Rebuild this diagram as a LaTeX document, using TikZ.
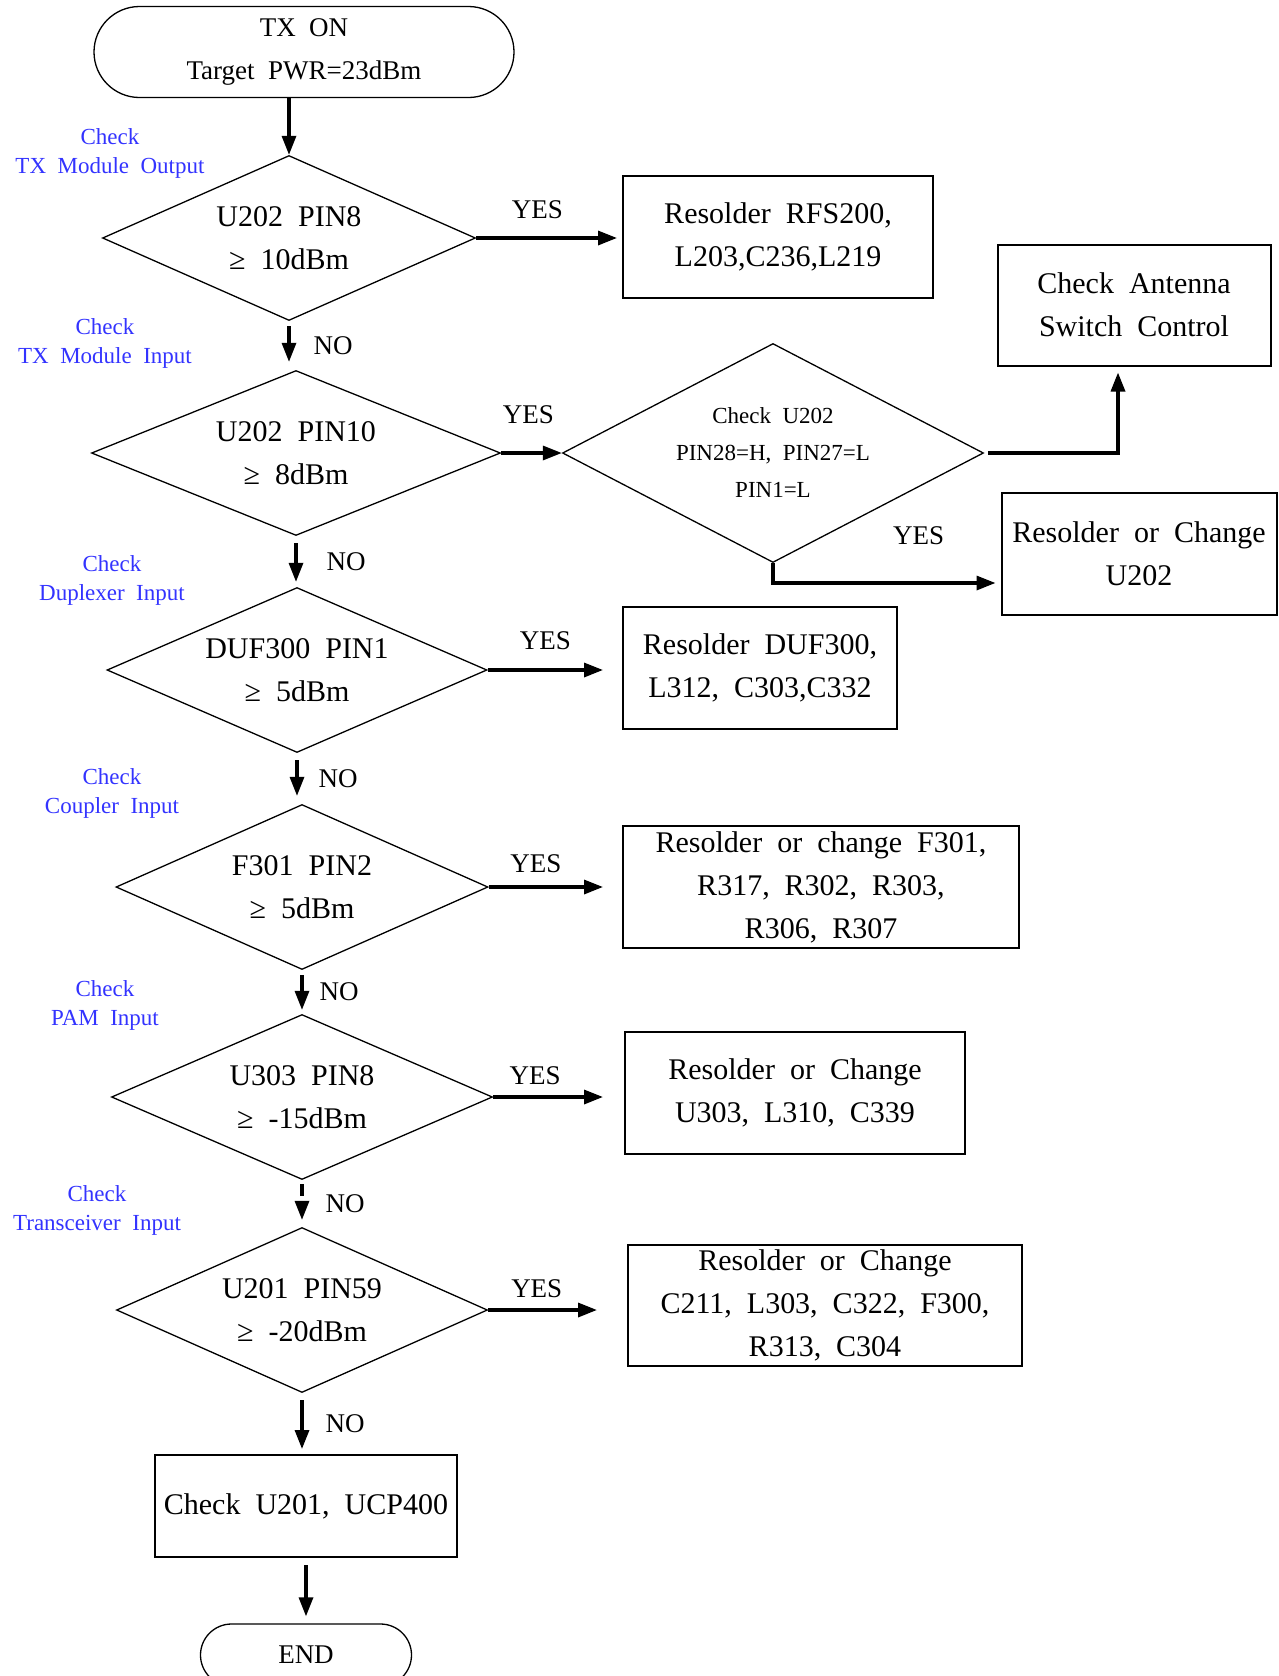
\documentclass[tikz,border=0pt]{standalone}
\usepackage{fontspec}
\setmainfont{Liberation Serif}[WordSpace={2,0,0}]
\usepackage{tikz}
\usetikzlibrary{positioning, shapes, arrows.meta, calc}
\definecolor{ChkBlue}{RGB}{51,51,255}

\begin{document}
\begin{tikzpicture}[
  x=1pt, y=-1pt,
  decision/.style={diamond, draw, line width=1.3pt, inner sep=0pt, shape aspect=2.2, minimum height=165pt, font=\fontsize{30}{43}\selectfont, align=center},
  fixbox/.style={rectangle, draw, line width=2pt, inner sep=0pt, minimum height=122pt, font=\fontsize{30}{43}\selectfont, align=center},
  terminal/.style={rounded rectangle, draw, line width=1.3pt, inner sep=0pt, font=\fontsize{27}{43}\selectfont, align=center},
  arrow/.style={-{Triangle[length=19pt, width=14pt]}, line width=3.3pt},
  yn/.style={font=\fontsize{27}{30}\selectfont, inner sep=0pt},
  chk/.style={font=\fontsize{23}{29}\selectfont, ChkBlue, align=center, inner sep=0pt}
]
\useasboundingbox (0,0) rectangle (1278,1676);

% Start
\node[terminal, minimum width=420pt, minimum height=91pt] (start) at (304,52) {TX ON\\Target PWR=23dBm};

% Decisions (main column)
\node[decision, minimum width=373pt] (u202p8) at (289,238) {U202 PIN8\\≥ 10dBm};
\node[decision, minimum width=409pt] (u202p10) at (296,453) {U202 PIN10\\≥ 8dBm};
\node[decision, minimum width=380pt] (duf300) at (297,670) {DUF300 PIN1\\≥ 5dBm};
\node[decision, minimum width=372pt] (f301) at (302,887) {F301 PIN2\\≥ 5dBm};
\node[decision, minimum width=381pt] (u303) at (302,1097) {U303 PIN8\\≥ -15dBm};
\node[decision, minimum width=371pt] (u201) at (302,1310) {U201 PIN59\\≥ -20dBm};
\node[decision, minimum width=421pt, minimum height=219pt, shape aspect=1.9, font=\fontsize{23}{37}\selectfont] (ctrl) at (773,453) {Check U202\\PIN28=H, PIN27=L\\PIN1=L};

% Repair boxes
\node[fixbox, minimum width=310pt] (rfs200) at (778,237) {Resolder RFS200,\\L203,C236,L219};
\node[fixbox, minimum width=273pt, minimum height=121pt] (antsw) at (1134,305) {Check Antenna\\Switch Control};
\node[fixbox, minimum width=275pt] (chgu202) at (1139,554) {Resolder or Change\\U202};
\node[fixbox, minimum width=274pt] (rsduf) at (760,668) {Resolder DUF300,\\L312, C303,C332};
\node[fixbox, minimum width=396pt] (rsf301) at (821,887) {Resolder or change F301,\\R317, R302, R303,\\R306, R307};
\node[fixbox, minimum width=340pt] (chgu303) at (795,1093) {Resolder or Change\\U303, L310, C339};
\node[fixbox, minimum width=394pt, minimum height=121pt] (chgc211) at (825,1305) {Resolder or Change\\C211, L303, C322, F300,\\R313, C304};
\node[fixbox, minimum width=302pt, minimum height=102pt] (chkucp) at (306,1506) {Check U201, UCP400};

% End
\node[terminal, minimum width=211pt, minimum height=62pt] (finish) at (306,1655) {END};

% Check points
\node[chk] (chk1) at (110,153) {Check\\TX Module Output};
\node[chk] (chk2) at (105,343) {Check\\TX Module Input};
\node[chk] (chk3) at (112,580) {Check\\Duplexer Input};
\node[chk] (chk4) at (112,793) {Check\\Coupler Input};
\node[chk] (chk5) at (105,1005) {Check\\PAM Input};
\node[chk] (chk6) at (97,1210) {Check\\Transceiver Input};

% Arrows down (NO)
\draw[arrow] (start.south -| u202p8.north) -- (u202p8.north);
\draw[arrow, shorten <=5pt, shorten >=8pt] (u202p8.south) -- node[yn, right=23pt] {NO} (u202p8.south |- u202p10.north);
\draw[arrow, shorten <=7pt, shorten >=5pt] (u202p10.south) -- node[yn, right=29pt] {NO} (u202p10.south |- duf300.north);
\draw[arrow, shorten <=7pt, shorten >=8pt] (duf300.south) -- node[yn, right=20pt] {NO} (duf300.south |- f301.north);
\draw[arrow, shorten <=5pt, shorten >=4pt] (f301.south) -- node[yn, right=16pt] {NO} (f301.south |- u303.north);
\draw[arrow, dash pattern=on 12pt off 9pt, shorten <=4pt, shorten >=7pt] (u303.south) -- node[yn, right=22pt] {NO} (u303.south |- u201.north);
\draw[arrow, shorten <=7pt, shorten >=5pt] (u201.south) -- node[yn, right=22pt] {NO} (u201.south |- chkucp.north);
\draw[arrow, shorten <=7pt, shorten >=7pt] (chkucp.south) -- (chkucp.south |- finish.north);

% Arrows right (YES)
\draw[arrow, shorten >=5pt] (u202p8.east) -- node[yn, above=18pt, pos=0.42] {YES} (u202p8.east -| rfs200.west);
\draw[arrow] (u202p10.east) -- node[yn, above=28pt, pos=0.45] {YES} (ctrl.west);
\draw[arrow, shorten >=19pt] (duf300.east) -- node[yn, above=19pt, pos=0.43] {YES} (duf300.east -| rsduf.west);
\draw[arrow, shorten >=19pt] (f301.east) -- node[yn, above=13pt, pos=0.355] {YES} (f301.east -| rsf301.west);
\draw[arrow, shorten >=21pt] (u303.east) -- node[yn, above=11pt, pos=0.32] {YES} (u303.east -| chgu303.west);
\draw[arrow, shorten >=30pt] (u201.east) -- node[yn, above=11pt, pos=0.35] {YES} (u201.east -| chgc211.west);

% Antenna switch check
\draw[arrow, shorten <=4pt, shorten >=6pt] (ctrl.east) -| ([xshift=-16pt]antsw.south);
\draw[arrow, shorten >=5pt] (ctrl.south) |- node[yn, above=37pt, pos=0.82] {YES} ([yshift=-29pt]chgu202.west);

\end{tikzpicture}
\end{document}
